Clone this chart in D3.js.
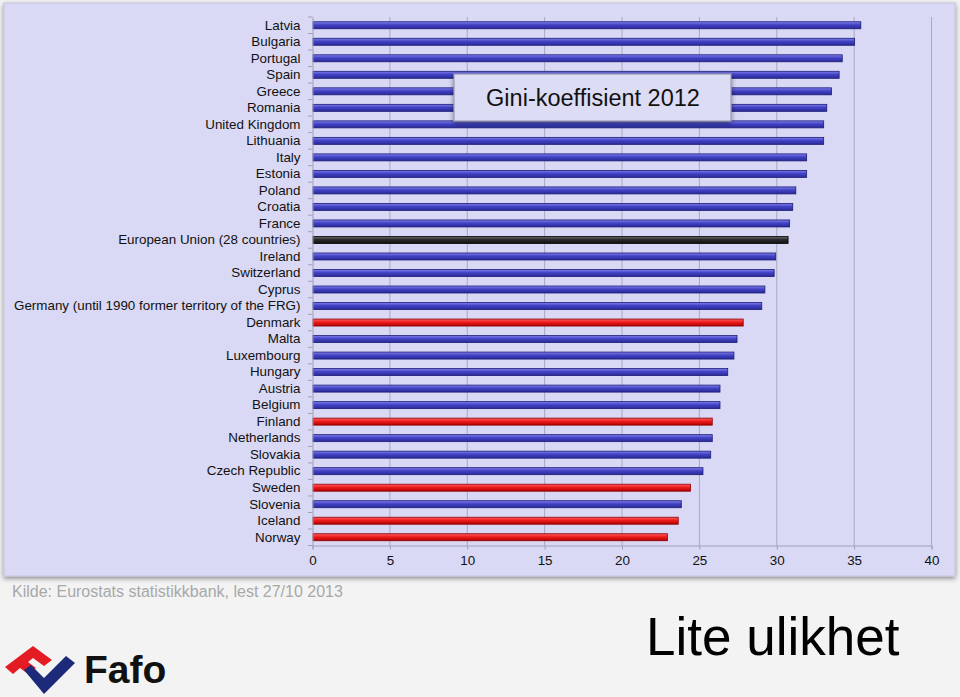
<!DOCTYPE html>
<html><head><meta charset="utf-8">
<script src="https://cdn.jsdelivr.net/npm/d3@7"></script>
<style>
html,body{margin:0;padding:0;background:#f3f3f3;}
svg{display:block;font-family:"Liberation Sans",Arial,sans-serif;}
</style></head>
<body><svg id="c" width="960" height="697"></svg>
<script>
const countries = ["Latvia","Bulgaria","Portugal","Spain","Greece","Romania","United Kingdom","Lithuania","Italy","Estonia","Poland","Croatia","France","European Union (28 countries)","Ireland","Switzerland","Cyprus","Germany (until 1990 former territory of the FRG)","Denmark","Malta","Luxembourg","Hungary","Austria","Belgium","Finland","Netherlands","Slovakia","Czech Republic","Sweden","Slovenia","Iceland","Norway"];
const gini = [35.4,35.0,34.2,34.0,33.5,33.2,33.0,33.0,31.9,31.9,31.2,31.0,30.8,30.7,29.9,29.8,29.2,29.0,27.8,27.4,27.2,26.8,26.3,26.3,25.8,25.8,25.7,25.2,24.4,23.8,23.6,22.9];
const nordic = ["Denmark","Finland","Sweden","Iceland","Norway"];
const euAverage = "European Union (28 countries)";
const xTicks = [0,5,10,15,20,25,30,35,40];
const chartTitle = "Gini-koeffisient 2012";
const sourceNote = "Kilde: Eurostats statistikkbank, lest 27/10 2013";
const headline = "Lite ulikhet";

const FONT = "'Liberation Sans', Arial, sans-serif";
const svg = d3.select("#c");
const defs = svg.append("defs");
const grad = (id, top, mid, bot) => {
  const g = defs.append("linearGradient").attr("id", id).attr("x1",0).attr("y1",0).attr("x2",0).attr("y2",1);
  g.append("stop").attr("offset","0%").attr("stop-color",top);
  g.append("stop").attr("offset","45%").attr("stop-color",mid);
  g.append("stop").attr("offset","100%").attr("stop-color",bot);
};
grad("gBlue","#8080ee","#4242c4","#2a2a98");
grad("gRed","#ff6060","#ee1c1c","#b00000");
grad("gBlack","#707070","#2a2a2a","#111111");
const sh = defs.append("filter").attr("id","shadow").attr("x","-20%").attr("y","-20%").attr("width","140%").attr("height","160%");
sh.append("feGaussianBlur").attr("in","SourceAlpha").attr("stdDeviation",2.5);
sh.append("feOffset").attr("dx",0).attr("dy",2).attr("result","b");
sh.append("feComponentTransfer").append("feFuncA").attr("type","linear").attr("slope",0.45);
const m = sh.append("feMerge"); m.append("feMergeNode"); m.append("feMergeNode").attr("in","SourceGraphic");

// panel
svg.append("rect").attr("x",4).attr("y",3).attr("width",951).attr("height",573)
  .attr("fill","#d9d9f5").attr("stroke","#c4c4dc").attr("stroke-width",1).attr("filter","url(#shadow)");

const x = d3.scaleLinear().domain([0,40]).range([312.5,931.5]);
const y = d3.scaleBand().domain(countries).range([17,545.5]).paddingInner(0).paddingOuter(0);

// gridlines
svg.append("g").selectAll("line").data(xTicks.slice(1)).join("line")
  .attr("x1",d=>x(d)).attr("x2",d=>x(d)).attr("y1",17).attr("y2",545.5)
  .attr("stroke","#a8a8be").attr("stroke-width",1);

// bars
const bh = 7;
svg.append("g").selectAll("rect").data(countries).join("rect")
  .attr("x", x(0)+0.5)
  .attr("y", d => y(d) + y.bandwidth()/2 - bh/2)
  .attr("width", (d,i) => x(gini[i]) - x(0))
  .attr("height", bh)
  .attr("fill", d => d===euAverage ? "url(#gBlack)" : nordic.includes(d) ? "url(#gRed)" : "url(#gBlue)")
  .attr("stroke", d => d===euAverage ? "#000" : nordic.includes(d) ? "#8a0000" : "#1c1c78")
  .attr("stroke-width", 0.8);

// y axis
const yAxis = svg.append("g").attr("transform","translate(312.5,0)")
  .call(d3.axisLeft(y).tickSize(0).tickPadding(12));
yAxis.attr("font-family",FONT);
yAxis.select(".domain").attr("stroke","#a0a0b4");
yAxis.selectAll("text").attr("font-size",13.4).attr("fill","#111");
// band boundary ticks
svg.append("g").selectAll("line").data(d3.range(countries.length+1)).join("line")
  .attr("x1",308).attr("x2",312.5)
  .attr("y1",i=>17 + i*y.step()).attr("y2",i=>17 + i*y.step())
  .attr("stroke","#a0a0b4");

// x axis
const xAxis = svg.append("g").attr("transform","translate(0,545.5)")
  .call(d3.axisBottom(x).tickValues(xTicks).tickSize(4).tickPadding(6).tickFormat(d3.format("d")));
xAxis.attr("font-family",FONT);
xAxis.select(".domain").attr("stroke","#a0a0b4");
xAxis.selectAll("line").attr("stroke","#a0a0b4");
xAxis.selectAll("text").attr("font-size",13.4).attr("fill","#111");

// title box
svg.append("rect").attr("x",454).attr("y",74).attr("width",277).attr("height",47)
  .attr("fill","#dcdcf4").attr("stroke","#9a9aae").attr("stroke-width",1.2).attr("filter","url(#shadow)");
svg.append("text").attr("x",593).attr("y",106).attr("text-anchor","middle").attr("font-family",FONT)
  .attr("font-size",23.5).attr("fill","#111").text(chartTitle);

// source
svg.append("text").attr("x",12).attr("y",597).attr("font-family",FONT).attr("font-size",16).attr("fill","#a8a8a8").text(sourceNote);

// headline
svg.append("text").attr("x",646).attr("y",655).attr("font-family",FONT).attr("font-size",53).attr("fill","#000").text(headline);

// Fafo logo
const logo = svg.append("g");
logo.append("path").attr("d","M5,667 L33,646 L52,660 L44,666 L33,658 L28,662 L36,668 L28,674 L20,668 L13,674 Z").attr("fill","#e31b23");
logo.append("path").attr("d","M24,670 L31,665 L44,678 L66,656 L75,663 L44,694 Z").attr("fill","#1d2a7a");
logo.append("text").attr("x",84).attr("y",683).attr("font-family",FONT).attr("font-size",39).attr("font-weight","bold").attr("fill","#111").text("Fafo");
</script></body></html>
